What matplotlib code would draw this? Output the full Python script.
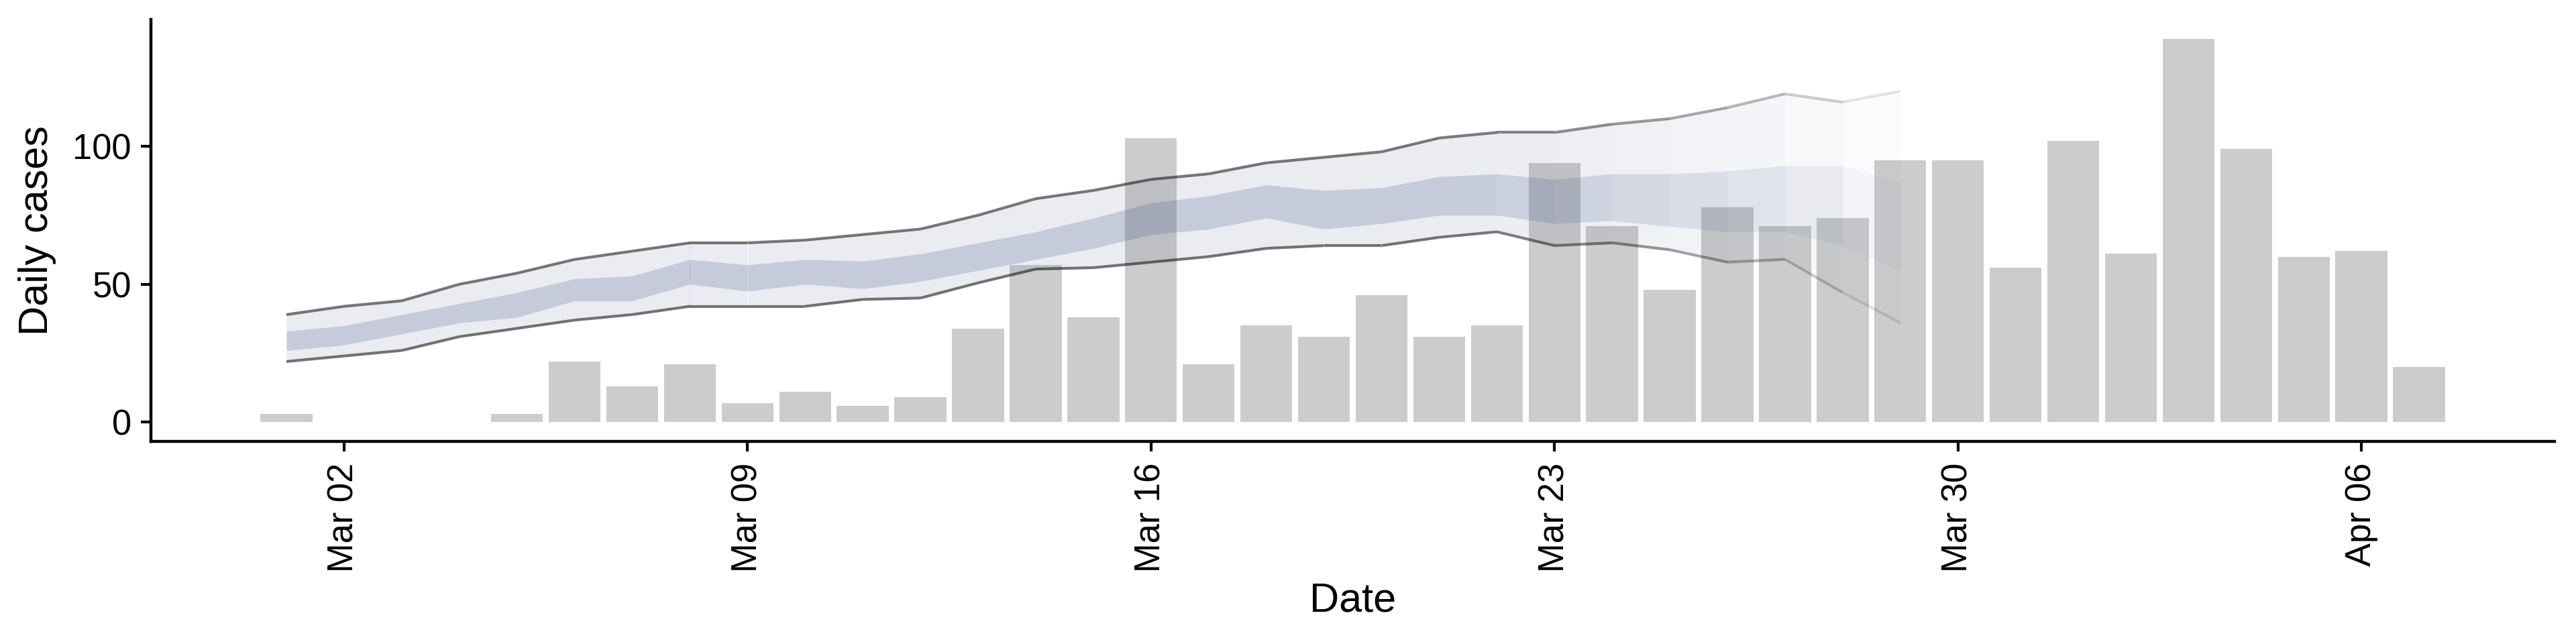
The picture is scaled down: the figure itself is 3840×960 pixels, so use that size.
import numpy as np
import pandas as pd
import matplotlib
matplotlib.use("Agg")
import matplotlib.pyplot as plt
import matplotlib.dates as mdates

plt.rcParams['font.family'] = ['Liberation Sans', 'DejaVu Sans']

# observed daily cases, Mar 01 .. Apr 07
case_dates = pd.date_range("2020-03-01", "2020-04-07", freq="D")
cases = [3, 0, 0, 0, 3, 22, 13, 21, 7, 11, 6, 9, 34, 57, 38, 103, 21, 35, 31, 46,
         31, 35, 94, 71, 48, 78, 71, 74, 95, 95, 56, 102, 61, 139, 99, 60, 62, 20]

# estimate bands, Mar 01 .. Mar 29
band_dates = pd.date_range("2020-03-01", "2020-03-29", freq="D")
upper90 = [39, 42, 44, 50, 54, 59, 62, 65, 65, 66, 68, 70, 75, 81, 84, 88, 90, 94,
           96, 98, 103, 105, 105, 108, 110, 114, 119, 116, 120]
lower90 = [22, 24, 26, 31, 34, 37, 39, 42, 42, 42, 44.5, 45, 50.5, 55.5, 56, 58, 60,
           63, 64, 64, 67, 69, 64, 65, 62.5, 58, 59, 47, 36]
upper50 = [33, 35, 39, 43, 47, 52, 53, 59, 57, 59, 58.4, 61, 65, 69, 74, 79.5, 82, 86,
           84, 85, 89, 90, 88, 90, 90, 91, 93, 93, 87]
lower50 = [26, 28, 32, 36, 38, 44, 44, 50, 47.5, 50, 48.4, 51, 55, 59, 63, 68, 70, 74,
           70, 72, 75, 75, 72, 73, 71, 69, 69, 64, 55]

band_col = "#465A8C"

fig = plt.figure(figsize=(38.4, 9.6), dpi=100)
ax = fig.add_axes([225/3840, 302/960, 3583/3840, 629/960])

ax.bar(case_dates, cases, width=0.9, color="#CCCCCC", zorder=1)

# band drawn piece by piece so it can fade out towards the end
x = mdates.date2num(band_dates)
nseg = len(x) - 1
fade_start = 18
for i in range(nseg):
    k = i - fade_start
    m = 1.0 if k < 0 else 1 - 0.8 * (k / (nseg - 1 - fade_start)) ** 2
    xs = x[i:i+2]
    ax.fill_between(xs, lower90[i:i+2], upper90[i:i+2], color=band_col,
                    alpha=0.11*m, lw=0, zorder=2)
    ax.fill_between(xs, lower50[i:i+2], upper50[i:i+2], color=band_col,
                    alpha=0.22*m, lw=0, zorder=2)
    ax.plot(xs, upper90[i:i+2], color="black", alpha=0.53*m, lw=3.0,
            solid_capstyle="butt", zorder=3)
    ax.plot(xs, lower90[i:i+2], color="black", alpha=0.53*m, lw=3.0,
            solid_capstyle="butt", zorder=3)

x0 = mdates.date2num(pd.Timestamp("2020-03-02"))
ax.set_xlim(x0 - 3.35, x0 + 38.35)
ax.set_ylim(-6.95, 145.95)

ticks = pd.to_datetime(["2020-03-02", "2020-03-09", "2020-03-16", "2020-03-23",
                        "2020-03-30", "2020-04-06"])
ax.set_xticks(mdates.date2num(ticks))
ax.xaxis.set_major_formatter(mdates.DateFormatter("%b %d"))
ax.set_yticks([0, 50, 100])

for s in ["top", "right"]:
    ax.spines[s].set_visible(False)
for s in ["left", "bottom"]:
    ax.spines[s].set_linewidth(3.2)

ax.tick_params(axis="both", labelsize=37.8, width=3.0, length=11, colors="black")
ax.tick_params(axis="x", rotation=90, pad=12)
ax.tick_params(axis="y", pad=10)

ax.set_xlabel("Date", fontsize=44)
ax.set_ylabel("Daily cases", fontsize=44)
ax.xaxis.set_label_coords(0.5, (658 - 896) / 629)
ax.xaxis.label.set_va("center")
ax.yaxis.set_label_coords((56 - 225) / 3583, 0.5)
ax.yaxis.label.set_va("center")

fig.savefig("out.png", dpi=100)
